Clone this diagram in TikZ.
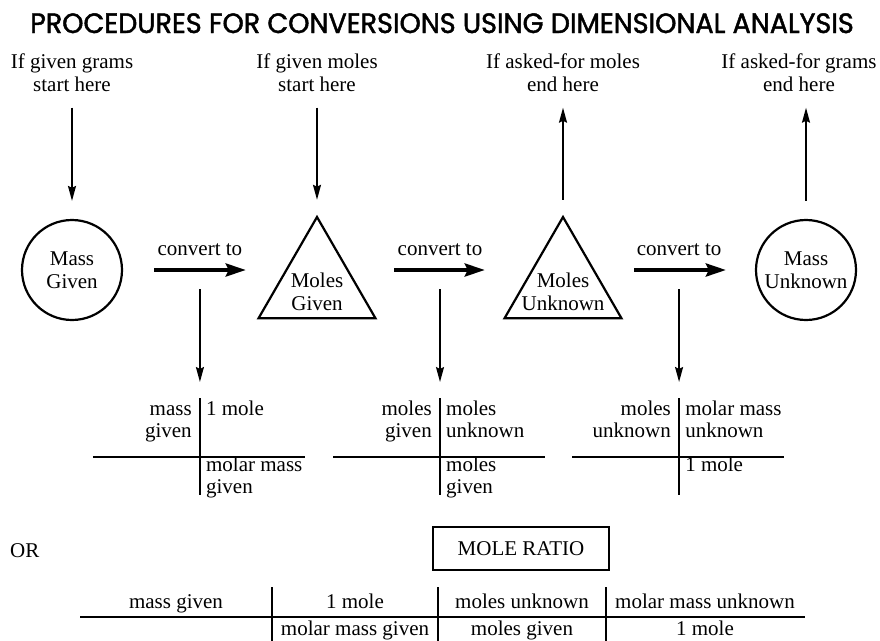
\documentclass[tikz,border=0pt]{standalone}
\usepackage{fontspec}
\setmainfont{Liberation Serif}
\newfontfamily\titlefont{Poppins}[FakeStretch=0.965,FakeBold=1.6]
\usetikzlibrary{shapes.geometric,arrows.meta,positioning,calc}
\tikzset{
  txt/.style={font=\fontsize{21}{23}\selectfont, inner sep=0pt, align=center},
  cell/.style={font=\fontsize{21}{22}\selectfont, inner sep=0pt},
  vArr/.style={line width=1.8pt, -{Stealth[length=15pt,width=8pt,inset=2pt]}},
  cArr/.style={line width=3.8pt, -{Stealth[length=20pt,width=13pt,inset=3pt]}},
  blob/.style={circle, draw, line width=2.2pt, minimum size=100pt, inner sep=0pt, align=center, font=\fontsize{21}{23}\selectfont},
  tri/.style={regular polygon, regular polygon sides=3, draw, line width=2.2pt, minimum size=135pt, inner sep=0pt},
  rule/.style={line width=1.4pt},
}
\begin{document}
\begin{tikzpicture}[x=1pt,y=1pt]
\useasboundingbox (0,0) rectangle (880,-640);
% title
\node[font=\titlefont\fontsize{28}{32}\selectfont, inner sep=0pt, anchor=base] (title) at (442,-33) {PROCEDURES FOR CONVERSIONS USING DIMENSIONAL ANALYSIS};

% entry / exit labels
\node[txt] (startG) at (72,-72.5)  {If given grams\\start here};
\node[txt] (startM) at (317,-72.5) {If given moles\\start here};
\node[txt] (endM)   at (563,-72.5) {If asked-for moles\\end here};
\node[txt] (endG)   at (799,-72.5) {If asked-for grams\\end here};

% quantities
\node[blob] (massG) at (72,-270) {Mass\\Given};
\node[tri]  (molG)  at (317,-284.5) {};
\node[txt]  (molGt) at (317,-291.5) {Moles\\Given};
\node[tri]  (molU)  at (563,-284.5) {};
\node[txt]  (molUt) at (563,-291.5) {Moles\\Unknown};
\node[blob] (massU) at (806,-270) {Mass\\Unknown};

% in and out
\draw[vArr,shorten <=16pt,shorten >=18pt] (startG) -- (massG);
\draw[vArr,shorten <=16pt,shorten >=15pt] (startM) -- (molG);
\draw[vArr,shorten <=15pt,shorten >=16pt] (molU) -- (endM);
\draw[vArr,shorten <=18pt,shorten >=16pt] (massU) -- (massU |- endG.south);

% convert to
\draw[cArr,shorten <=31pt,shorten >=31pt] (massG) -- (massG -| molG.west)
  node[midway,txt,anchor=base,yshift=15pt] (cv1) {convert to};
\draw[cArr,shorten <=37pt,shorten >=38pt] (molG.east |- massG) -- (molU.west |- massG)
  node[midway,txt,anchor=base,yshift=15pt] (cv2) {convert to};
\draw[cArr,shorten <=31pt,shorten >=29pt] (molU.east |- massU) -- (massU)
  node[midway,txt,anchor=base,yshift=15pt] (cv3) {convert to};

% factor crosses
\foreach \c/\k in {cv1/t1,cv2/t2,cv3/t3}{
  \coordinate (\k) at (\c.south |- 0,-457);
  \draw[vArr,shorten <=32pt,shorten >=75pt] (\c.south) -- (\k);
  \draw[rule] ($(\k)+(-107,0)$) -- ($(\k)+(105,0)$);
  \draw[rule] ($(\k)+(0,59)$) -- ($(\k)+(0,-38)$);
}
% first factor
\node[cell,anchor=base east] (t1a) at ($(t1)+(-8,42)$)  {mass};
\node[cell,anchor=base east] (t1b) at ($(t1)+(-8,20)$)  {given};
\node[cell,anchor=base west] (t1c) at ($(t1)+(6,42)$)   {1 mole};
\node[cell,anchor=base west] (t1d) at ($(t1)+(6,-14)$)  {molar mass};
\node[cell,anchor=base west] (t1e) at ($(t1)+(6,-36)$)  {given};
% second factor
\node[cell,anchor=base east] (t2a) at ($(t2)+(-8,42)$)  {moles};
\node[cell,anchor=base east] (t2b) at ($(t2)+(-8,20)$)  {given};
\node[cell,anchor=base west] (t2c) at ($(t2)+(6,42)$)   {moles};
\node[cell,anchor=base west] (t2d) at ($(t2)+(6,20)$)   {unknown};
\node[cell,anchor=base west] (t2e) at ($(t2)+(6,-14)$)  {moles};
\node[cell,anchor=base west] (t2f) at ($(t2)+(6,-36)$)  {given};
% third factor
\node[cell,anchor=base east] (t3a) at ($(t3)+(-8,42)$)  {moles};
\node[cell,anchor=base east] (t3b) at ($(t3)+(-8,20)$)  {unknown};
\node[cell,anchor=base west] (t3c) at ($(t3)+(6,42)$)   {molar mass};
\node[cell,anchor=base west] (t3d) at ($(t3)+(6,20)$)   {unknown};
\node[cell,anchor=base west] (t3e) at ($(t3)+(6,-14)$)  {1 mole};

% alternative
\node[cell,anchor=base west] (orw) at (10,-557) {OR};
\node[cell,draw,line width=2.2pt,minimum width=176pt,minimum height=43pt] (ratio) at (521,-548.5) {MOLE RATIO};

% chained factors
\draw[rule] (80,-617) -- (805,-617);
\foreach \x in {272,438,606}{
  \draw[rule] (\x,-587) -- (\x,-642);
}
\node[cell,anchor=base] (r1a) at (176,-608) {mass given};
\node[cell,anchor=base] (r1b) at (355,-608) {1 mole};
\node[cell,anchor=base] (r1c) at (522,-608) {moles unknown};
\node[cell,anchor=base] (r1d) at (705,-608) {molar mass unknown};
\node[cell,anchor=base] (r2b) at (355,-635) {molar mass given};
\node[cell,anchor=base] (r2c) at (522,-635) {moles given};
\node[cell,anchor=base] (r2d) at (705,-635) {1 mole};
\end{tikzpicture}
\end{document}
